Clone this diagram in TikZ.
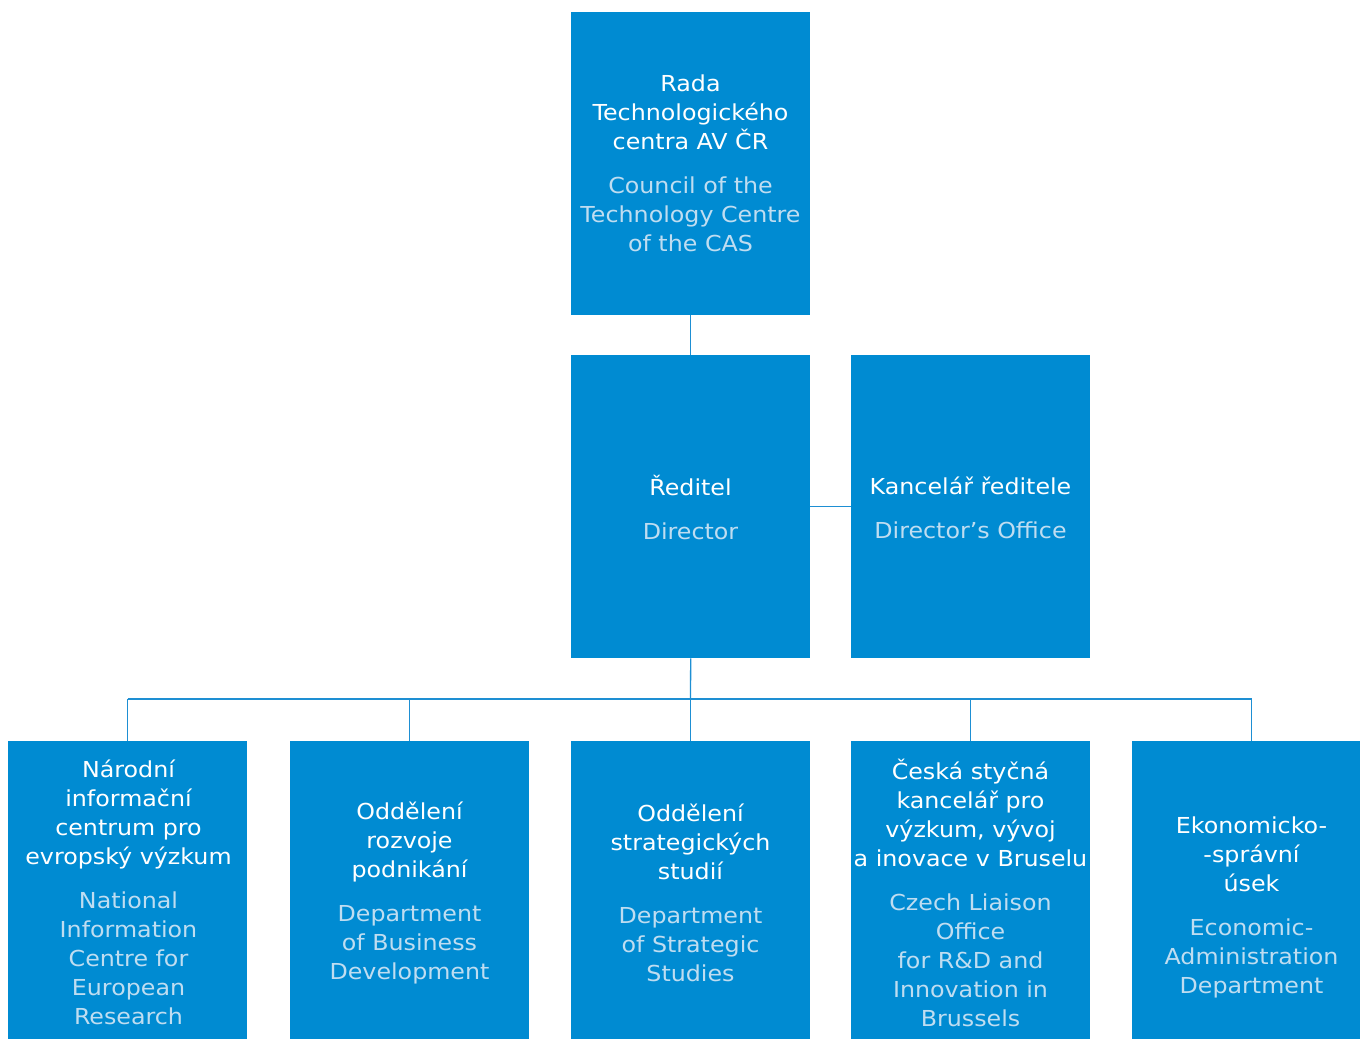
\documentclass[tikz,border=0pt]{standalone}
\usepackage{fontspec}
\setmainfont[FakeStretch=1.08]{DejaVu Sans}
\definecolor{boxblue}{HTML}{008BD2}
\definecolor{engblue}{HTML}{BFDDF1}
\definecolor{lineblue}{HTML}{1E8FD3}
\begin{document}
\begin{tikzpicture}[x=1pt,y=-1pt,
  box/.style={fill=boxblue, draw=none, minimum width=239pt, minimum height=#1, inner sep=0pt, anchor=north west},
  box/.default=303pt,
  txt/.style={text=white, align=center, inner sep=0pt, font=\fontsize{22}{29}\selectfont},
  conn/.style={draw=lineblue, line width=1.3pt}]
\useasboundingbox (0,0) rectangle (1360,1039);
\clip (0,0) rectangle (1360,1039);
\newcommand{\en}[1]{\color{engblue}#1}
% boxes
\node[box] (top) at (571,12) {};
\node[box] (dir) at (571,355) {};
\node[box] (off) at (851,355) {};
\node[box=298pt] (b1) at (8,741) {};
\node[box=298pt] (b2) at (290,741) {};
\node[box=298pt] (b3) at (571,741) {};
\node[box=298pt] (b4) at (851,741) {};
\node[box=298pt] (b5) at (1132,741) {};
% texts
\node[txt] (topt) at (690.5,163.5) {Rada\\Technologického\\centra AV ČR\\[15pt]\en{Council of the}\\\en{Technology Centre}\\\en{of the CAS}};
\node[txt] (dirt) at (690.5,507.5) {Ředitel\\[15pt]\en{Director}};
\node[txt] (offt) at (970.5,507.5) {Kancelář ředitele\\[15pt]\en{Director’s Office}};
\node[txt] (b1t) at (128.5,892.5) {Národní\\informační\\centrum pro\\evropský výzkum\\[15pt]\en{National}\\\en{Information}\\\en{Centre for}\\\en{European}\\\en{Research}};
\node[txt] (b2t) at (409.5,892.5) {Oddělení\\rozvoje\\podnikání\\[15pt]\en{Department}\\\en{of Business}\\\en{Development}};
\node[txt] (b3t) at (690.5,892.5) {Oddělení\\strategických\\studií\\[15pt]\en{Department}\\\en{of Strategic}\\\en{Studies}};
\node[txt] (b4t) at (970.5,892.5) {Česká styčná\\kancelář pro\\výzkum, vývoj\\a inovace v Bruselu\\[15pt]\en{Czech Liaison}\\\en{Office}\\\en{for R\&D and}\\\en{Innovation in}\\\en{Brussels}};
\node[txt] (b5t) at (1251.5,907.5) {Ekonomicko-\\-správní\\úsek\\[15pt]\en{Economic-}\\\en{Administration}\\\en{Department}};
% connectors
\draw[conn] (top.south) -- (dir.north);
\draw[conn] (dir.east) -- (off.west);
\coordinate (bus) at (690.5,699);
\draw[conn] (dir.south) -- (bus);
\draw[conn] (b1.north |- bus) -- (b5.north |- bus);
\foreach \b in {b1,b2,b3,b4,b5} \draw[conn] (\b.north |- bus) -- (\b.north);
\end{tikzpicture}
\end{document}
